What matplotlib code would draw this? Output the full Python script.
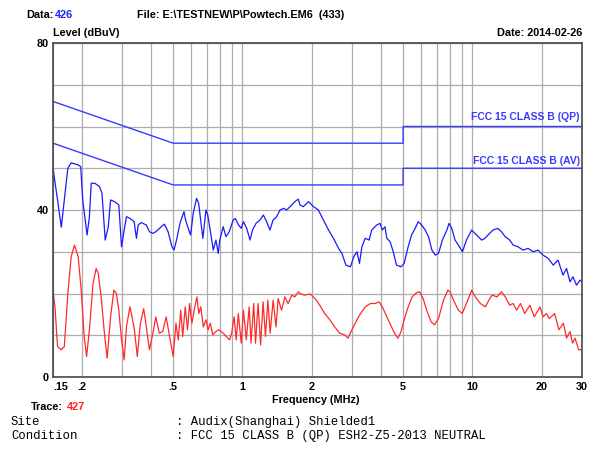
import matplotlib
matplotlib.use("Agg")
import matplotlib.pyplot as plt

# FCC 15 class B limits (MHz, dBuV)
limit_freq = [0.15, 0.5, 5, 5, 30]
limit_qp = [66, 56, 56, 60, 60]
limit_av = [56, 46, 46, 50, 50]

# Peak scan, neutral line (blue)
qp_freq = [0.150, 0.157, 0.163, 0.174, 0.180, 0.193, 0.198, 0.202, 0.211, 0.216,
           0.220, 0.228, 0.239, 0.245, 0.253, 0.261, 0.267, 0.278, 0.290, 0.298,
           0.306, 0.313, 0.324, 0.338, 0.346, 0.352, 0.363, 0.382, 0.394, 0.408,
           0.420, 0.444, 0.458, 0.475, 0.494, 0.504, 0.517, 0.535, 0.557, 0.566,
           0.581, 0.595, 0.611, 0.632, 0.645, 0.664, 0.673, 0.694, 0.707, 0.728,
           0.747, 0.767, 0.785, 0.797, 0.825, 0.848, 0.876, 0.912, 0.930, 0.963,
           0.988, 1.01, 1.044, 1.079, 1.107, 1.146, 1.193, 1.233, 1.275, 1.317,
           1.36, 1.409, 1.457, 1.51, 1.558, 1.638, 1.69, 1.75, 1.78, 1.84,
           1.94, 2.04, 2.14, 2.25, 2.37, 2.49, 2.62, 2.71, 2.82, 2.95,
           3.05, 3.15, 3.23, 3.31, 3.42, 3.56, 3.65, 3.84, 3.97, 4.06,
           4.17, 4.25, 4.39, 4.53, 4.68, 4.90, 5.05, 5.26, 5.44, 5.64,
           5.82, 6.02, 6.24, 6.45, 6.67, 6.90, 7.13, 7.41, 7.75, 7.92,
           8.14, 8.41, 8.70, 9.06, 9.43, 9.94, 10.44, 10.97, 11.34, 11.7,
           12.3, 12.9, 13.4, 13.9, 14.55, 15.05, 15.8, 16.6, 17.5, 18.4,
           19.3, 20.3, 21.4, 22.5, 23.6, 24.8, 25.7, 26.6, 27.4, 28.4,
           29.4, 30.0]
qp_level = [50.0, 42.4, 35.9, 50.0, 51.3, 50.8, 50.4, 42.4, 34.0, 38.4,
            46.4, 46.4, 45.6, 44.0, 32.8, 36.0, 42.4, 42.0, 41.2, 31.2,
            35.2, 38.4, 38.0, 37.2, 33.2, 36.4, 37.0, 36.4, 34.8, 34.4,
            34.8, 36.0, 36.6, 34.8, 31.2, 30.4, 32.8, 36.8, 39.6, 37.6,
            35.6, 34.0, 39.2, 42.8, 41.6, 36.0, 33.2, 40.0, 38.8, 34.4,
            30.4, 32.8, 29.6, 32.8, 36.0, 33.6, 34.8, 37.6, 38.0, 36.4,
            35.6, 37.2, 35.6, 32.8, 35.2, 36.8, 37.6, 38.8, 37.2, 35.2,
            37.6, 38.4, 40.0, 40.4, 40.0, 41.2, 42.0, 42.6, 41.2, 40.8,
            42.0, 40.8, 40.0, 37.6, 35.2, 33.2, 30.8, 29.6, 26.8, 26.4,
            28.8, 30.0, 27.2, 31.2, 33.2, 32.8, 35.2, 36.4, 36.8, 35.2,
            36.0, 33.2, 32.4, 30.0, 26.8, 26.4, 27.2, 31.2, 34.0, 35.6,
            37.2, 36.4, 35.2, 33.6, 30.4, 29.2, 29.6, 32.8, 35.2, 36.8,
            35.6, 32.8, 31.6, 30.0, 32.8, 35.2, 34.0, 32.8, 33.2, 34.0,
            35.2, 35.6, 34.8, 33.6, 32.8, 31.6, 31.2, 30.4, 30.8, 30.0,
            30.4, 29.2, 28.4, 26.8, 28.0, 24.4, 26.0, 22.8, 24.0, 22.0,
            23.2, 22.8]

# Average scan, neutral line (red)
av_freq = [0.150, 0.153, 0.157, 0.163, 0.168, 0.174, 0.180, 0.186, 0.193, 0.199,
           0.205, 0.210, 0.216, 0.224, 0.231, 0.236, 0.243, 0.251, 0.258, 0.267,
           0.276, 0.283, 0.290, 0.298, 0.306, 0.313, 0.324, 0.331, 0.339, 0.349,
           0.360, 0.372, 0.382, 0.394, 0.408, 0.420, 0.435, 0.450, 0.466, 0.482,
           0.500, 0.514, 0.526, 0.539, 0.550, 0.564, 0.577, 0.589, 0.603, 0.617,
           0.634, 0.646, 0.659, 0.676, 0.694, 0.709, 0.725, 0.743, 0.767, 0.790,
           0.825, 0.850, 0.880, 0.898, 0.920, 0.940, 0.960, 0.988, 1.01, 1.04,
           1.07, 1.09, 1.12, 1.14, 1.17, 1.20, 1.23, 1.26, 1.29, 1.32,
           1.36, 1.40, 1.43, 1.48, 1.53, 1.58, 1.64, 1.69, 1.75, 1.78,
           1.86, 1.97, 2.07, 2.17, 2.28, 2.40, 2.52, 2.65, 2.78, 2.88,
           2.97, 3.07, 3.23, 3.42, 3.60, 3.78, 3.93, 4.06, 4.25, 4.48,
           4.63, 4.75, 4.90, 5.05, 5.26, 5.47, 5.72, 5.90, 6.11, 6.33,
           6.62, 6.85, 7.13, 7.49, 7.83, 8.00, 8.28, 8.70, 9.04, 9.43,
           9.94, 10.3, 10.85, 11.4, 11.8, 12.2, 12.8, 13.4, 13.9, 14.55,
           15.05, 15.6, 16.2, 16.9, 17.8, 18.6, 19.7, 20.3, 21.0, 21.6,
           22.8, 23.8, 24.9, 25.7, 26.6, 27.3, 28.0, 29.0, 30.0]
av_level = [20.8, 16.8, 7.3, 6.5, 7.3, 20.0, 28.8, 31.6, 28.8, 20.8,
            9.7, 4.9, 11.3, 22.4, 26.0, 24.8, 19.2, 10.5, 4.5, 14.4,
            20.8, 20.0, 16.0, 8.9, 4.1, 12.0, 16.8, 14.4, 11.3, 4.9,
            12.9, 16.4, 12.0, 6.5, 10.5, 14.4, 10.5, 10.9, 14.4, 9.7,
            4.9, 12.9, 8.9, 16.0, 9.7, 16.8, 11.3, 17.6, 12.9, 16.0,
            19.2, 15.2, 16.8, 12.0, 13.7, 11.3, 12.9, 10.1, 10.9, 11.3,
            10.5, 9.7, 8.9, 10.5, 14.4, 8.9, 15.2, 8.1, 16.0, 8.9,
            16.8, 8.1, 17.6, 8.1, 17.6, 7.7, 18.0, 9.7, 18.4, 10.5,
            18.4, 12.0, 18.8, 16.0, 19.2, 17.6, 19.6, 19.2, 20.4, 20.0,
            19.6, 19.9, 18.8, 17.2, 15.2, 13.7, 12.0, 10.5, 10.1, 9.3,
            10.9, 12.5, 14.8, 16.8, 17.6, 17.6, 18.0, 16.8, 14.4, 11.7,
            10.1, 9.3, 10.9, 13.7, 16.8, 19.2, 20.2, 20.4, 18.8, 16.0,
            13.2, 12.5, 14.0, 18.4, 20.8, 20.4, 18.4, 16.0, 15.2, 17.6,
            20.8, 19.2, 17.6, 16.8, 18.4, 19.6, 19.2, 20.4, 19.2, 17.2,
            17.6, 16.0, 17.6, 15.2, 17.2, 14.4, 16.8, 14.4, 15.2, 14.0,
            15.2, 11.3, 12.9, 9.3, 10.9, 8.1, 9.3, 6.5, 6.6]

x_major = [0.15, 0.2, 0.5, 1, 2, 5, 10, 20, 30]
x_major_labels = [".15", ".2", ".5", "1", "2", "5", "10", "20", "30"]
x_minor = [0.3, 0.4, 0.6, 0.7, 0.8, 0.9, 3, 4, 6, 7, 8, 9]

W, H = 595, 451
fig = plt.figure(figsize=(W / 100, H / 100), dpi=100)
ax = fig.add_axes([53 / W, 1 - 377 / H, 529 / W, 334 / H])

sans = "Liberation Sans"
mono = "Liberation Mono"
blue = "#1a1aff"
lim_blue = "#3a3aff"

ax.plot(limit_freq, limit_qp, color=lim_blue, lw=1.0)
ax.plot(limit_freq, limit_av, color=lim_blue, lw=1.0)
ax.plot(qp_freq, qp_level, color=blue, lw=0.9)
ax.plot(av_freq, av_level, color="#ff2a2a", lw=0.9)

ax.set_xscale("log")
ax.set_xlim(0.15, 30)
ax.set_ylim(0, 80)
ax.set_xticks(x_major)
ax.set_xticklabels(x_major_labels)
ax.set_xticks(x_minor, minor=True)
ax.set_xticklabels([], minor=True)
ax.set_yticks([0, 40, 80])
ax.set_yticklabels(["0", "40", "80"])
ax.set_yticks([10, 20, 30, 50, 60, 70], minor=True)
ax.tick_params(which="both", length=0)
ax.tick_params(axis="x", pad=3.5)
ax.tick_params(axis="y", pad=3)
for lab in ax.get_xticklabels() + ax.get_yticklabels():
    lab.set_fontfamily(sans)
    lab.set_fontweight("bold")
    lab.set_fontsize(7.8)
ax.get_xticklabels()[0].set_ha("left")
ax.grid(which="both", color="#adadad", lw=0.9)
ax.set_axisbelow(True)
for sp in ax.spines.values():
    sp.set_color("#484848")
    sp.set_linewidth(1.2)

ax.text(29.3, 62.2, "FCC 15 CLASS B (QP)", color=lim_blue, ha="right", va="center",
        family=sans, weight="bold", fontsize=7.5)
ax.text(29.3, 51.7, "FCC 15 CLASS B (AV)", color=lim_blue, ha="right", va="center",
        family=sans, weight="bold", fontsize=7.5)


def px(x, y, s, **kw):
    kw.setdefault("family", sans)
    kw.setdefault("weight", "bold")
    kw.setdefault("fontsize", 7.8)
    kw.setdefault("va", "center")
    fig.text(x / W, 1 - y / H, s, **kw)


px(26, 15, "Data:")
px(55, 15, "426", color="#2020ff")
px(137, 15, "File: E:\\TESTNEW\\P\\Powtech.EM6  (433)")
px(53, 33, "Level (dBuV)")
px(582, 33, "Date: 2014-02-26", ha="right")
px(316, 400, "Frequency (MHz)", ha="center")
px(31, 407, "Trace:")
px(67, 407, "427", color="#ff2020")

px(11, 422, "Site", family=mono, weight="normal", fontsize=8.8)
px(176, 422, ": Audix(Shanghai) Shielded1", family=mono, weight="normal", fontsize=8.8)
px(11, 436, "Condition", family=mono, weight="normal", fontsize=8.8)
px(176, 436, ": FCC 15 CLASS B (QP) ESH2-Z5-2013 NEUTRAL", family=mono, weight="normal",
   fontsize=8.8)

fig.savefig("out.png", dpi=100)
